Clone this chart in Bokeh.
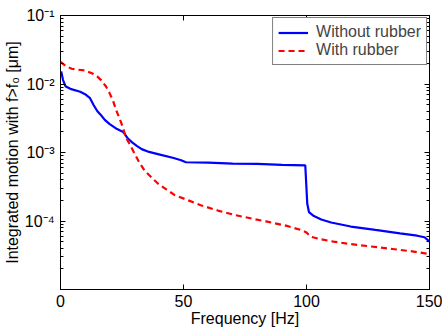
from bokeh.plotting import figure
from bokeh.models import (LinearAxis, LogAxis, Range1d, FixedTicker, Legend, LegendItem,
                          CustomJSTickFormatter)
from bokeh.embed import file_html
from bokeh.resources import INLINE

# Data
freq_without = [0.3, 1.0, 2.0, 4.0, 8.0, 10.0, 12.0, 13.5, 15.0, 16.5, 18.0, 20.0, 23.0, 25.5,
                27.4, 29.0, 31.0, 33.0, 36.0, 40.0, 46.0, 49.0, 51.0, 60.0, 70.0, 80.0, 90.0,
                99.5, 100.3, 101.0, 103.0, 106.0, 110.0, 118.0, 128.0, 138.0, 145.0, 148.0, 150.0]
motion_without = [0.0153, 0.0115, 0.0093, 0.0085, 0.0077, 0.0071, 0.0062, 0.0049, 0.0040, 0.0035,
                  0.0030, 0.0026, 0.0022, 0.0020, 0.0016, 0.00142, 0.00125, 0.00112, 0.00102,
                  0.00094, 0.00083, 0.00077, 0.00072, 0.00071, 0.00069, 0.00068, 0.00066,
                  0.00065, 0.00018, 0.000135, 0.000118, 0.000105, 0.000095, 0.000083, 0.000074,
                  0.000066, 0.000061, 0.000058, 0.000050]

freq_with = [0.0, 2.0, 4.5, 7.0, 10.0, 13.2, 15.0, 16.6, 18.5, 20.0, 21.5, 22.7, 24.7, 26.8,
             28.5, 30.0, 32.0, 34.1, 37.0, 39.7, 43.0, 46.3, 52.0, 57.0, 64.0, 70.6, 78.0,
             84.0, 92.0, 97.7, 100.0, 101.7, 105.0, 111.0, 118.0, 125.0, 135.0, 143.0, 150.0]
motion_with = [0.021, 0.0185, 0.0167, 0.0162, 0.0158, 0.0141, 0.0128, 0.0113, 0.0092, 0.0073,
               0.0055, 0.0041, 0.0027, 0.0016, 0.00125, 0.00098, 0.00072, 0.00055, 0.00043,
               0.00035, 0.00029, 0.00024, 0.00020, 0.00017, 0.000142, 0.000123, 0.000108,
               0.000098, 0.000085, 0.000074, 0.000068, 0.000059, 0.000055, 0.000050, 0.000046,
               0.000043, 0.000039, 0.000036, 0.000033]

x_ticks = [0, 50, 100, 150]
y_ticks = [1e-5, 1e-4, 1e-3, 1e-2, 1e-1]
y_tick_labels = {1e-5: "", 1e-4: "10⁻⁴", 1e-3: "10⁻³", 1e-2: "10⁻²", 1e-1: "10⁻¹"}
y_minor = [m * d for d in y_ticks[:-1] for m in range(2, 10)]

FONT = "Liberation Sans"
FS = "16px"

p = figure(width=442, height=329, y_axis_type="log",
           x_range=Range1d(0, 150), y_range=Range1d(1e-5, 1e-1),
           output_backend="svg", toolbar_location=None,
           min_border_left=59, min_border_right=13, min_border_top=15, min_border_bottom=39)

p.xgrid.visible = False
p.ygrid.visible = False
p.outline_line_color = "black"
p.outline_line_width = 1

r1 = p.line(freq_without, motion_without, line_color="#0000ff", line_width=2.2)
r2 = p.line(freq_with, motion_with, line_color="#ff0000", line_width=2.2, line_dash="6 4")

legend = Legend(items=[LegendItem(label="Without rubber", renderers=[r1]),
                       LegendItem(label="With rubber", renderers=[r2])],
                location="top_right", margin=2, padding=5, spacing=0,
                label_text_font=FONT, label_text_font_size=FS, label_standoff=8,
                glyph_width=30, glyph_height=15, label_height=15,
                border_line_color="black", border_line_width=1,
                background_fill_color="white", background_fill_alpha=1.0)
p.add_layout(legend)

def style_axis(ax):
    ax.axis_line_color = "black"
    ax.major_tick_in = 5
    ax.major_tick_out = 0
    ax.minor_tick_in = 3
    ax.minor_tick_out = 0
    ax.major_tick_line_color = "black"
    ax.minor_tick_line_color = "black"
    ax.major_label_text_font = FONT
    ax.major_label_text_font_size = FS
    ax.major_label_text_color = "black"
    ax.axis_label_text_font = FONT
    ax.axis_label_text_font_size = FS
    ax.axis_label_text_font_style = "normal"
    ax.axis_label_text_color = "black"

xa = p.xaxis[0]
xa.ticker = FixedTicker(ticks=x_ticks, minor_ticks=[])
xa.axis_label = "Frequency [Hz]"
xa.axis_label_standoff = 0
xa.major_label_standoff = 5
style_axis(xa)

ya = p.yaxis[0]
ya.ticker = FixedTicker(ticks=y_ticks, minor_ticks=y_minor)
ya.axis_label = "Integrated motion with f>f₀ [μm]"
ya.axis_label_standoff = 1
ya.major_label_standoff = 6
ya.major_label_overrides = y_tick_labels
style_axis(ya)

top = LinearAxis(ticker=FixedTicker(ticks=x_ticks, minor_ticks=[]),
                 formatter=CustomJSTickFormatter(code="return ''"))
style_axis(top)
top.major_label_standoff = 0
p.add_layout(top, "above")

right = LogAxis(ticker=FixedTicker(ticks=y_ticks, minor_ticks=y_minor),
                formatter=CustomJSTickFormatter(code="return ''"))
style_axis(right)
right.major_label_standoff = 0
p.add_layout(right, "right")

open("out.html", "w").write(file_html(p, INLINE))
